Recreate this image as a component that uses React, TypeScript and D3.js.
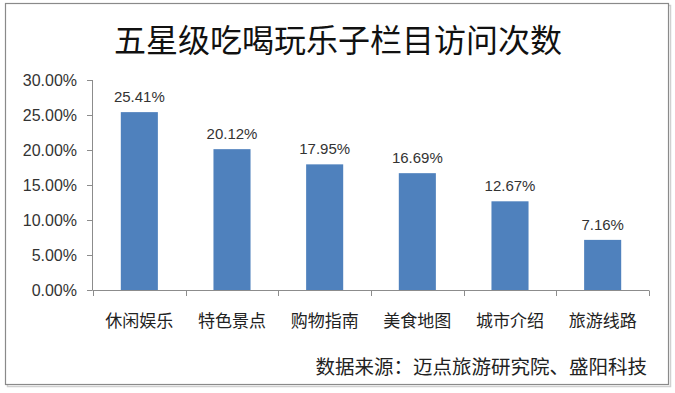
import { useEffect, useRef } from 'react';
import * as d3 from 'd3';

const title = '五星级吃喝玩乐子栏目访问次数';
const source = '数据来源：迈点旅游研究院、盛阳科技';
const categories = ['休闲娱乐', '特色景点', '购物指南', '美食地图', '城市介绍', '旅游线路'];
const values = [25.41, 20.12, 17.95, 16.69, 12.67, 7.16];
const yTicks = [0, 5, 10, 15, 20, 25, 30];

const W = 675;
const H = 393;
const cjk = '"Noto Sans CJK SC", "Noto Sans", sans-serif';
const latin = '"Liberation Sans", Arial, sans-serif';

export default function App() {
  const svgRef = useRef<SVGSVGElement>(null);

  useEffect(() => {
    if (!svgRef.current) return;
    const svg = d3.select(svgRef.current);
    svg.selectAll('*').remove();

    // frame with a soft shadow
    svg.append('rect')
      .attr('x', 7.5).attr('y', 5.5)
      .attr('width', 663).attr('height', 381)
      .attr('fill', 'none').attr('stroke', '#d0d0d0').attr('stroke-width', 1.5);
    svg.append('rect')
      .attr('x', 5.5).attr('y', 3.5)
      .attr('width', 663).attr('height', 381)
      .attr('fill', '#fff').attr('stroke', '#8a8a8a').attr('stroke-width', 1.2);

    svg.append('text')
      .attr('x', 338).attr('y', 38)
      .attr('text-anchor', 'middle')
      .attr('dominant-baseline', 'central')
      .style('font-family', cjk)
      .style('font-size', '32px')
      .style('fill', '#111')
      .text(title);

    const x = d3.scaleBand<string>()
      .domain(categories)
      .range([93, 649])
      .paddingInner(0.6)
      .paddingOuter(0.3);
    const y = d3.scaleLinear().domain([0, 30]).range([290, 80]);

    const axisColor = '#8c8c8c';

    // y axis
    const yAxis = svg.append('g');
    yAxis.append('line')
      .attr('x1', 92.5).attr('x2', 92.5)
      .attr('y1', y(30)).attr('y2', y(0))
      .attr('stroke', axisColor);
    yAxis.selectAll('line.tick')
      .data(yTicks)
      .join('line')
      .attr('class', 'tick')
      .attr('x1', 87).attr('x2', 92.5)
      .attr('y1', d => Math.round(y(d)) + 0.5)
      .attr('y2', d => Math.round(y(d)) + 0.5)
      .attr('stroke', axisColor);
    yAxis.selectAll('text')
      .data(yTicks)
      .join('text')
      .attr('x', 77)
      .attr('y', d => y(d))
      .attr('dy', '0.35em')
      .attr('text-anchor', 'end')
      .style('font-family', latin)
      .style('font-size', '16px')
      .style('fill', '#333')
      .text(d => d.toFixed(2) + '%');

    // x axis with category boundary ticks
    const edges = d3.range(categories.length + 1).map(i => 93 + i * x.step());
    svg.append('line')
      .attr('x1', 92.5).attr('x2', 649)
      .attr('y1', 290.5).attr('y2', 290.5)
      .attr('stroke', axisColor);
    svg.selectAll('line.xtick')
      .data(edges)
      .join('line')
      .attr('class', 'xtick')
      .attr('x1', d => Math.round(d) + 0.5)
      .attr('x2', d => Math.round(d) + 0.5)
      .attr('y1', 290.5).attr('y2', 296)
      .attr('stroke', axisColor);

    svg.selectAll('text.cat')
      .data(categories)
      .join('text')
      .attr('class', 'cat')
      .attr('x', d => x(d)! + x.bandwidth() / 2)
      .attr('y', 319)
      .attr('dominant-baseline', 'central')
      .attr('text-anchor', 'middle')
      .style('font-family', cjk)
      .style('font-size', '17px')
      .style('fill', '#222')
      .text(d => d);

    // bars
    svg.selectAll('rect.bar')
      .data(values)
      .join('rect')
      .attr('class', 'bar')
      .attr('x', (_, i) => x(categories[i])!)
      .attr('y', d => y(d))
      .attr('width', x.bandwidth())
      .attr('height', d => y(0) - y(d))
      .attr('fill', '#4f81bd');

    svg.selectAll('text.val')
      .data(values)
      .join('text')
      .attr('class', 'val')
      .attr('x', (_, i) => x(categories[i])! + x.bandwidth() / 2)
      .attr('y', d => y(d) - 10)
      .attr('text-anchor', 'middle')
      .style('font-family', latin)
      .style('font-size', '15px')
      .style('fill', '#333')
      .text(d => d.toFixed(2) + '%');

    svg.append('text')
      .attr('x', 647).attr('y', 365)
      .attr('dominant-baseline', 'central')
      .attr('text-anchor', 'end')
      .style('font-family', cjk)
      .style('font-size', '19.5px')
      .style('fill', '#222')
      .text(source);
  }, []);

  return (
    <svg
      ref={svgRef}
      width={W}
      height={H}
      style={{ position: 'absolute', left: 0, top: 0, background: '#fff' }}
    />
  );
}
